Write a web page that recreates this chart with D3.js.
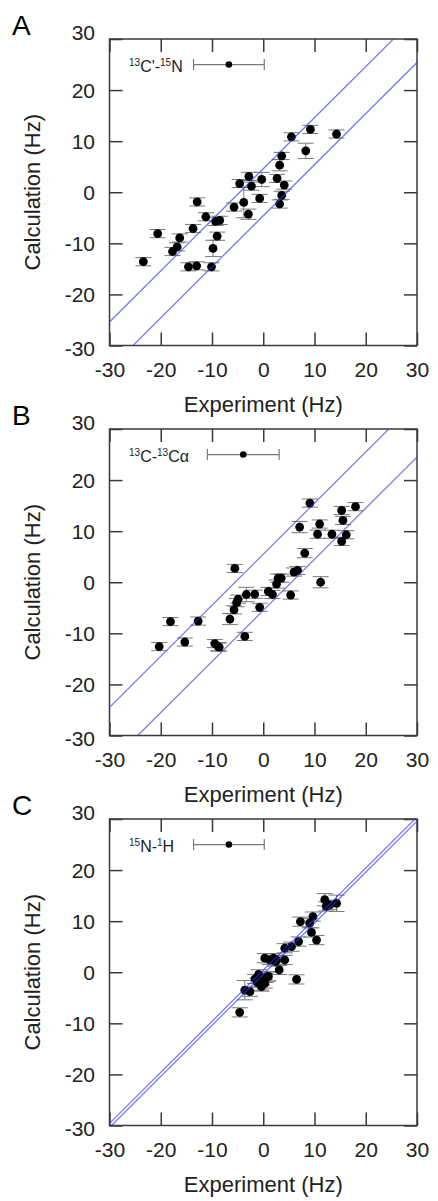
<!DOCTYPE html>
<html><head><meta charset="utf-8">
<script src="https://cdn.jsdelivr.net/npm/d3@7"></script>
<style>body{margin:0;background:#fff}</style>
</head><body>
<svg id="c" width="438" height="1201"></svg>
<script>
const panelLetters = ["A", "B", "C"];
const tickValues = [-30, -20, -10, 0, 10, 20, 30];
const xTitle = "Experiment (Hz)";
const yTitle = "Calculation (Hz)";

// Panel A: 13C'-15N
const aExp  = [-23.4,-20.6,-17.7,-16.8,-16.3,-13.7,-12.9,-14.6,-13.0,-11.2,-9.8,-10.1,-9.3,-8.5,-9.0,-5.7,-4.6,-3.8,-2.9,-2.8,-2.3,-0.7,-0.3,2.7,3.2,3.6,4.1,3.2,3.6,5.5,8.3,9.2,14.3];
const aCalc = [-13.6,-8.1,-11.6,-10.7,-8.95,-7.1,-1.9,-14.6,-14.4,-4.8,-11.0,-14.6,-5.7,-5.5,-8.6,-2.9,1.7,-2.0,-4.3,3.1,1.2,-1.2,2.5,2.7,-2.3,-0.6,1.4,5.3,7.1,10.85,8.1,12.3,11.4];
const aErr  = [0.8,0.8,0.8,0.8,0.8,0.8,0.8,0.8,0.8,0.8,1.6,0.8,0.8,0.8,0.8,0.8,0.8,3.0,1.0,0.8,0.8,0.8,1.4,0.8,0.8,0.8,0.8,1.1,0.7,0.8,1.5,0.8,0.8];

// Panel B: 13C-13Ca
const bExp  = [-20.3,-18.1,-15.3,-12.7,-9.45,-8.8,-8.6,-6.5,-5.7,-5.2,-4.9,-5.55,-3.6,-3.3,-1.65,-0.7,1.0,1.8,2.6,2.9,3.5,5.35,6.0,6.7,7.1,8.1,9.1,10.6,11.0,11.2,13.4,15.3,15.55,15.3,16.2,18.0];
const bCalc = [-12.6,-7.7,-11.7,-7.6,-12.0,-12.6,-12.7,-7.2,-5.4,-4.0,-3.3,2.7,-10.6,-2.4,-2.35,-4.9,-1.8,-2.4,-0.35,0.8,0.8,-2.5,2.0,2.3,10.8,5.7,15.5,9.4,11.4,0.0,9.4,14.05,12.1,8.0,9.3,14.8];
const bErr  = [0.8,0.8,0.8,0.8,0.8,0.8,0.8,1.1,0.8,0.8,0.8,0.8,0.8,1.4,0.8,0.8,0.8,0.8,0.8,0.8,0.8,0.8,0.8,0.8,1.1,0.9,0.8,0.8,0.8,1.1,0.8,0.8,0.8,0.8,0.8,0.8];

// Panel C: 15N-1H
const cExp  = [-4.6,-3.6,-2.6,-1.6,-0.9,-0.2,0.4,1.0,-0.4,0.3,-1.2,-0.35,0.9,0.3,1.3,2.0,2.6,3.1,4.2,2.4,4.2,5.5,6.9,6.5,7.25,9.06,9.7,9.4,10.4,12.0,12.3,13.0,14.3];
const cCalc = [-7.85,-3.5,-3.8,-1.3,-0.4,-1.6,-1.1,-0.8,-2.6,-2.2,-2.0,-2.8,-0.85,2.75,2.4,2.75,2.4,0.45,2.4,2.1,4.7,5.0,6.0,-1.4,9.9,9.6,10.9,7.8,6.3,14.2,12.9,13.2,13.5];
const cErr  = [0.9,1.9,0.9,0.9,0.9,0.9,0.9,0.9,0.9,0.9,0.9,0.9,0.9,0.9,0.9,0.9,0.9,0.9,0.9,0.9,0.9,0.9,0.9,0.9,0.9,0.9,0.9,0.9,0.9,1.2,0.9,0.9,1.6];

const bandOffsets = [4.6, 5.5, 0.4];
const legendX = [-6.7, -3.9, -6.7];
const legendErr = [6.9, 7.0, 6.9];
const legendY = 25;
const legendLabels = [
  [["13", true], ["C'-", false], ["15", true], ["N", false]],
  [["13", true], ["C-", false], ["13", true], ["C\u03B1", false]],
  [["15", true], ["N-", false], ["1", true], ["H", false]]
];

const panels = [
  {exp: aExp, calc: aCalc, err: aErr},
  {exp: bExp, calc: bCalc, err: bErr},
  {exp: cExp, calc: cCalc, err: cErr}
];

const svg = d3.select("#c");
const FONT = "'Liberation Sans', Arial, Helvetica, sans-serif";
const left = 109.5, W = 307.5, H = 306.5;
const tops = [39, 429, 819];
const frameColor = "#3a3a3a";
const fmt = d => String(d);

const x = d3.scaleLinear().domain([-30, 30]).range([0, W]);
const y = d3.scaleLinear().domain([-30, 30]).range([H, 0]);

panels.forEach((p, i) => {
  const g = svg.append("g").attr("transform", `translate(${left},${tops[i]})`);

  svg.append("text").attr("x", 12).attr("y", tops[i] - 4)
    .attr("font-family", FONT).attr("font-size", 28).attr("fill", "#000")
    .text(panelLetters[i]);

  const clipId = "clip" + i;
  g.append("clipPath").attr("id", clipId).append("rect")
    .attr("width", W).attr("height", H);

  const styleAxis = sel => {
    sel.select(".domain").remove();
    sel.selectAll(".tick line").attr("stroke", frameColor).attr("stroke-width", 1.5);
    sel.selectAll("text").attr("font-family", FONT).attr("font-size", 21).attr("fill", "#222");
  };
  g.append("g").attr("transform", `translate(0,${H})`)
    .call(d3.axisBottom(x).tickValues(tickValues).tickSizeInner(-13).tickSizeOuter(0).tickPadding(17).tickFormat(fmt))
    .call(styleAxis);
  g.append("g")
    .call(d3.axisTop(x).tickValues(tickValues).tickSizeInner(-13).tickSizeOuter(0).tickFormat(""))
    .call(styleAxis);
  const ya = g.append("g")
    .call(d3.axisLeft(y).tickValues(tickValues).tickSizeInner(-13).tickSizeOuter(0).tickPadding(14.5).tickFormat(fmt))
    .call(styleAxis);
  ya.selectAll(".tick text").attr("dy", d => d === 30 ? "0.03em" : d === -30 ? "0.47em" : "0.33em");
  g.append("g").attr("transform", `translate(${W},0)`)
    .call(d3.axisRight(y).tickValues(tickValues).tickSizeInner(-13).tickSizeOuter(0).tickFormat(""))
    .call(styleAxis);

  g.append("rect").attr("width", W).attr("height", H)
    .attr("fill", "none").attr("stroke", frameColor).attr("stroke-width", 1.5);

  svg.append("text").attr("x", left + W / 2).attr("y", tops[i] + H + 66)
    .attr("text-anchor", "middle").attr("font-family", FONT).attr("font-size", 22).attr("fill", "#222")
    .text(xTitle);
  svg.append("text").attr("transform", `translate(40,${tops[i] + H / 2}) rotate(-90)`)
    .attr("text-anchor", "middle").attr("font-family", FONT).attr("font-size", 22).attr("fill", "#222")
    .text(yTitle);

  const data = p.exp.map((v, k) => ({x: v, y: p.calc[k], e: p.err[k]}));
  const plot = g.append("g").attr("clip-path", `url(#${clipId})`);

  const eb = plot.append("g").attr("stroke", "#7a7a7a").attr("stroke-width", 1).attr("fill", "none");
  eb.selectAll("line.v").data(data).join("line").attr("class", "v")
    .attr("x1", d => x(d.x)).attr("x2", d => x(d.x))
    .attr("y1", d => y(d.y - d.e)).attr("y2", d => y(d.y + d.e));
  eb.selectAll("line.t").data(data).join("line").attr("class", "t")
    .attr("x1", d => x(d.x) - 8).attr("x2", d => x(d.x) + 8)
    .attr("y1", d => y(d.y + d.e)).attr("y2", d => y(d.y + d.e));
  eb.selectAll("line.b").data(data).join("line").attr("class", "b")
    .attr("x1", d => x(d.x) - 8).attr("x2", d => x(d.x) + 8)
    .attr("y1", d => y(d.y - d.e)).attr("y2", d => y(d.y - d.e));

  plot.append("g").selectAll("circle").data(data).join("circle")
    .attr("cx", d => x(d.x)).attr("cy", d => y(d.y)).attr("r", 4.4).attr("fill", "#000");

  const off = bandOffsets[i];
  const line = d3.line().x(d => x(d[0])).y(d => y(d[1]));
  [off, -off].forEach(o => {
    plot.append("path").datum([[-40, -40 + o], [40, 40 + o]])
      .attr("d", line).attr("fill", "none")
      .attr("stroke", "rgb(50,50,235)").attr("stroke-opacity", 0.65).attr("stroke-width", 1.3);
  });

  const lx = legendX[i], le = legendErr[i];
  const lg = g.append("g");
  lg.append("line").attr("x1", x(lx - le)).attr("x2", x(lx + le)).attr("y1", y(legendY)).attr("y2", y(legendY))
    .attr("stroke", "#7a7a7a").attr("stroke-width", 1.2);
  [lx - le, lx + le].forEach(v => lg.append("line").attr("x1", x(v)).attr("x2", x(v))
    .attr("y1", y(legendY) - 5.5).attr("y2", y(legendY) + 5.5).attr("stroke", "#7a7a7a").attr("stroke-width", 1.2));
  lg.append("circle").attr("cx", x(lx)).attr("cy", y(legendY)).attr("r", 3.3).attr("fill", "#000");

  const t = g.append("text").attr("x", 19.5).attr("y", 33)
    .attr("font-family", FONT).attr("font-size", 16).attr("fill", "#222");
  legendLabels[i].forEach(([s, sup]) => {
    const ts = t.append("tspan").text(s);
    if (sup) ts.attr("font-size", 10).attr("dy", -6);
    else ts.attr("dy", 6);
  });
  t.select("tspan").attr("dy", -6);
});
</script>
</body></html>
